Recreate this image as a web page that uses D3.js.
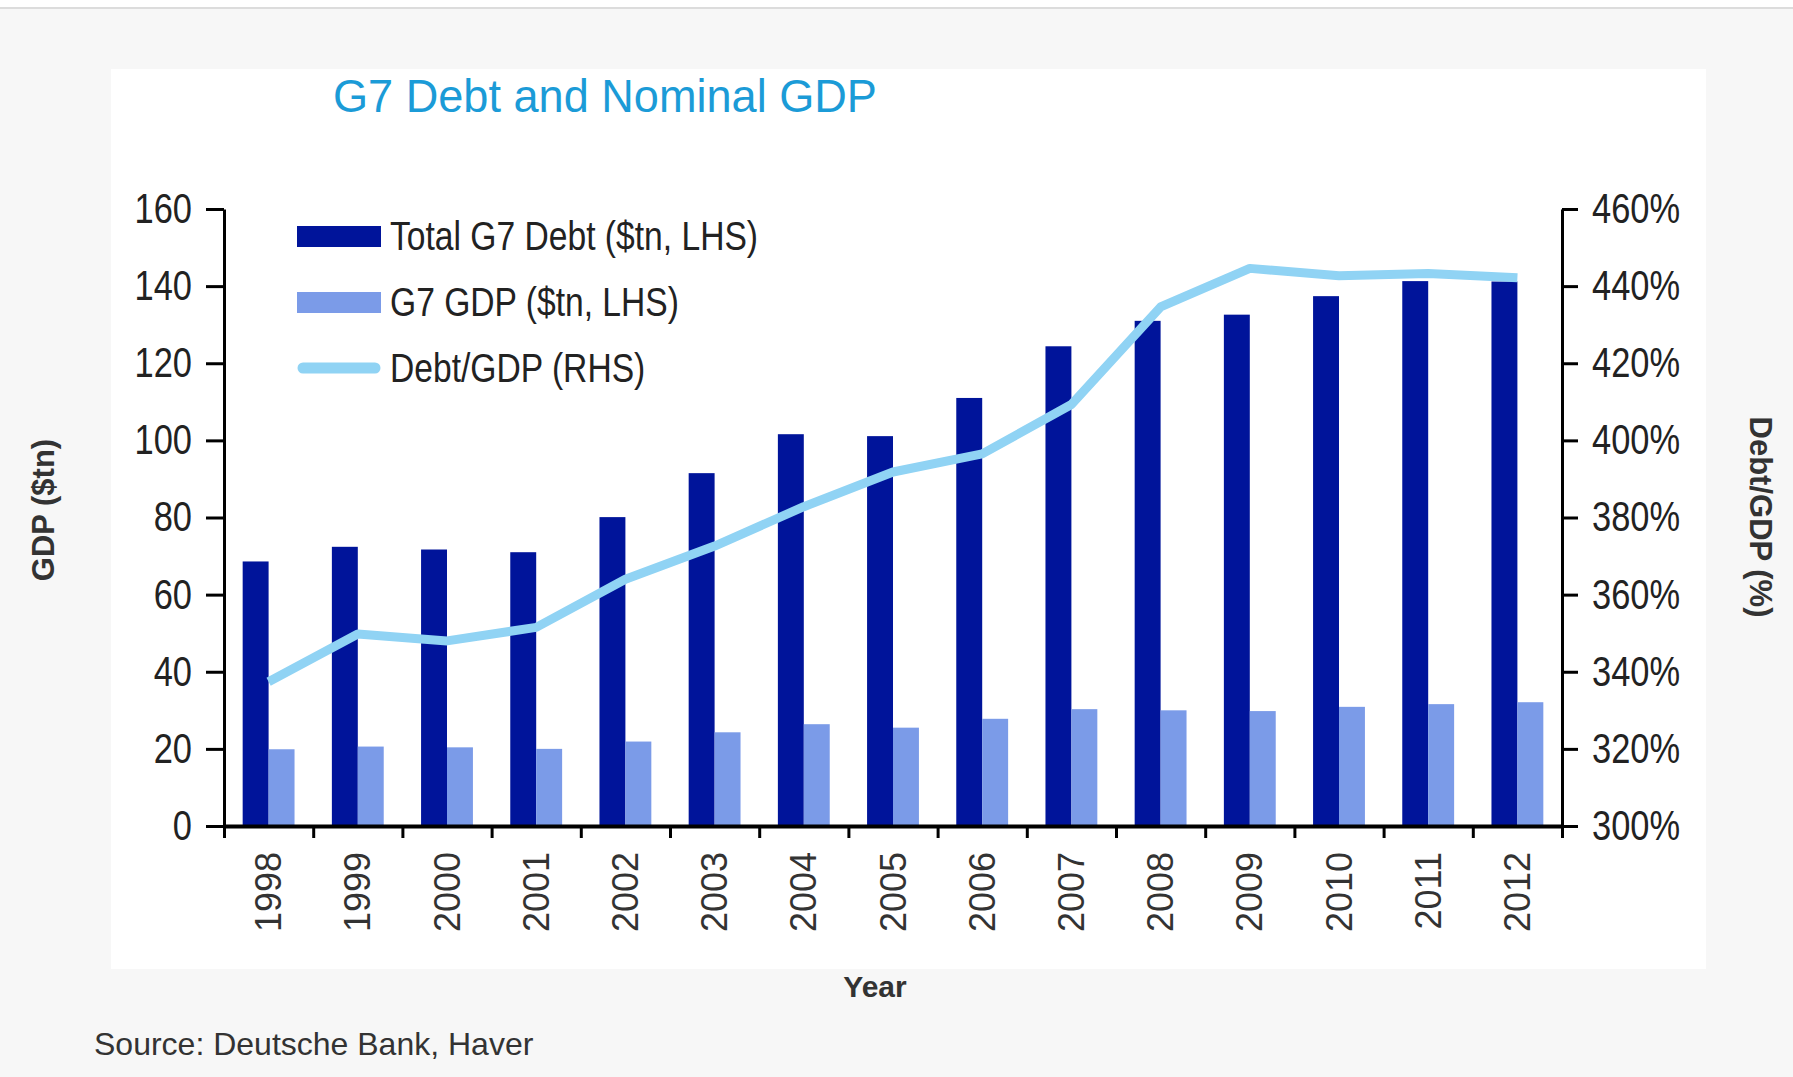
<!DOCTYPE html>
<html>
<head>
<meta charset="utf-8">
<script src="https://cdn.jsdelivr.net/npm/d3@7"></script>
<style>
  html, body { margin: 0; padding: 0; background: #f7f7f7; }
  svg { display: block; }
</style>
</head>
<body>
<svg id="chart" width="1793" height="1077"></svg>
<script>
// ---- data ----
const years = ["1998","1999","2000","2001","2002","2003","2004","2005","2006","2007","2008","2009","2010","2011","2012"];
const totalDebt = [68.6, 72.4, 71.7, 71.0, 80.1, 91.5, 101.6, 101.1, 111.0, 124.4, 131.0, 132.6, 137.4, 141.3, 141.2];
const g7Gdp     = [19.9, 20.6, 20.4, 20.0, 21.9, 24.3, 26.4, 25.5, 27.8, 30.3, 30.0, 29.8, 30.9, 31.6, 32.1];
const debtToGdp = [337.4, 349.8, 348.0, 351.5, 364.0, 372.6, 382.8, 391.8, 396.5, 409.3, 434.6, 444.6, 442.7, 443.3, 442.2];
const leftTicks  = [0, 20, 40, 60, 80, 100, 120, 140, 160];
const rightTicks = [300, 320, 340, 360, 380, 400, 420, 440, 460];
const seriesKeys  = ["debt", "gdp", "ratio"];
const seriesNames = ["Total G7 Debt ($tn, LHS)", "G7 GDP ($tn, LHS)", "Debt/GDP (RHS)"];

// ---- styling ----
const colors = { debt: "#00149a", gdp: "#7b9be8", ratio: "#90d3f4" };
const W = 1793, H = 1077;
const plot = { left: 224, right: 1562, top: 209, bottom: 826 };
const FONT = "'Liberation Sans', Arial, Helvetica, sans-serif";
const NARROW = 0.82;   // horizontal squeeze for the condensed labels

const svg = d3.select("#chart");

// page background, top rule and chart panel
svg.append("rect").attr("width", W).attr("height", H).attr("fill", "#f7f7f7");
svg.append("rect").attr("width", W).attr("height", 7).attr("fill", "#ffffff");
svg.append("line").attr("x1", 0).attr("x2", W).attr("y1", 8).attr("y2", 8)
  .attr("stroke", "#dcdcdc").attr("stroke-width", 2);
svg.append("rect").attr("x", 111).attr("y", 69).attr("width", 1595).attr("height", 900)
  .attr("fill", "#ffffff");

// ---- scales ----
const x0 = d3.scaleBand().domain(years).range([plot.left, plot.right]).padding(0);
const x1 = d3.scaleBand().domain(["debt", "gdp"]).range([0, x0.bandwidth()])
  .paddingInner(0).paddingOuter(0.72);
const yL = d3.scaleLinear().domain([0, 160]).range([plot.bottom, plot.top]);
const yR = d3.scaleLinear().domain([300, 460]).range([plot.bottom, plot.top]);

const rows = years.map((y, i) => ({ year: y, debt: totalDebt[i], gdp: g7Gdp[i], ratio: debtToGdp[i] }));

// squeeze an axis' tick labels horizontally around their anchor
function condense(sel, sx) {
  sel.each(function () {
    const t = d3.select(this);
    const x = +t.attr("x") || 0;
    t.attr("x", 0).attr("transform", `translate(${x},0) scale(${sx},1)`);
  });
}

// ---- bars ----
const pairs = svg.append("g").selectAll("g")
  .data(rows).join("g")
  .attr("transform", d => `translate(${x0(d.year)},0)`);
pairs.selectAll("rect")
  .data(d => [{ k: "debt", v: d.debt }, { k: "gdp", v: d.gdp }])
  .join("rect")
  .attr("x", e => x1(e.k))
  .attr("width", x1.bandwidth())
  .attr("y", e => yL(e.v))
  .attr("height", e => yL(0) - yL(e.v))
  .attr("fill", e => colors[e.k]);

// ---- Debt/GDP line on the right-hand scale ----
const ratioLine = d3.line()
  .x(d => x0(d.year) + x0.bandwidth() / 2)
  .y(d => yR(d.ratio));
svg.append("path").datum(rows)
  .attr("d", ratioLine)
  .attr("fill", "none")
  .attr("stroke", colors.ratio)
  .attr("stroke-width", 9)
  .attr("stroke-linejoin", "round");

// ---- axes ----
const axL = svg.append("g")
  .attr("transform", `translate(${plot.left},0)`)
  .call(d3.axisLeft(yL).tickValues(leftTicks).tickSize(18).tickSizeOuter(0).tickPadding(14));
const axR = svg.append("g")
  .attr("transform", `translate(${plot.right},0)`)
  .call(d3.axisRight(yR).tickValues(rightTicks).tickFormat(d => d + "%")
    .tickSize(16).tickSizeOuter(0).tickPadding(14));

[axL, axR].forEach(ax => {
  ax.attr("font-family", FONT).attr("font-size", 42);
  ax.select(".domain").attr("stroke", "#000").attr("stroke-width", 3);
  ax.selectAll(".tick line").attr("stroke", "#000").attr("stroke-width", 3);
  ax.selectAll(".tick text").attr("fill", "#222").call(condense, NARROW);
});

// category boundary ticks along the baseline
const bandEdges = d3.scaleLinear().domain([0, years.length]).range([plot.left, plot.right]);
const axB = svg.append("g")
  .attr("transform", `translate(0,${plot.bottom})`)
  .call(d3.axisBottom(bandEdges).tickValues(d3.range(years.length + 1))
    .tickSize(12).tickSizeOuter(0).tickFormat(""));
axB.select(".domain").attr("stroke", "#000").attr("stroke-width", 4);
axB.selectAll(".tick line").attr("stroke", "#000").attr("stroke-width", 3);

// rotated year labels centred under each pair
const axYears = svg.append("g")
  .attr("transform", `translate(0,${plot.bottom})`)
  .call(d3.axisBottom(x0).tickSize(0).tickSizeOuter(0));
axYears.select(".domain").remove();
axYears.attr("font-family", FONT).attr("font-size", 36);
axYears.selectAll(".tick text")
  .attr("fill", "#333")
  .attr("transform", "rotate(-90)")
  .attr("text-anchor", "end")
  .attr("x", -26).attr("y", 0).attr("dy", "0.35em");

// ---- legend ----
const legend = svg.append("g").attr("transform", "translate(297,236)");
seriesKeys.forEach((k, i) => {
  const row = legend.append("g").attr("transform", `translate(0,${i * 66})`);
  if (k === "ratio") {
    row.append("line").attr("x1", 6).attr("x2", 78).attr("y1", 0).attr("y2", 0)
      .attr("stroke", colors[k]).attr("stroke-width", 11).attr("stroke-linecap", "round");
  } else {
    row.append("rect").attr("x", 0).attr("y", -10).attr("width", 84).attr("height", 21)
      .attr("fill", colors[k]);
  }
  row.append("text")
    .attr("transform", `translate(93,0) scale(${NARROW},1)`)
    .attr("dy", "0.35em")
    .attr("font-family", FONT).attr("font-size", 41).attr("fill", "#222")
    .text(seriesNames[i]);
});

// ---- titles ----
svg.append("text")
  .attr("transform", "translate(333,112) scale(0.96,1)")
  .attr("font-family", FONT).attr("font-size", 47).attr("fill", "#1b9bd7")
  .text("G7 Debt and Nominal GDP");

svg.append("text")
  .attr("transform", "translate(43,510) rotate(-90)")
  .attr("text-anchor", "middle").attr("dy", "0.35em")
  .attr("font-family", FONT).attr("font-size", 31).attr("font-weight", "bold").attr("fill", "#333")
  .text("GDP ($tn)");

svg.append("text")
  .attr("transform", "translate(1761,517) rotate(90)")
  .attr("text-anchor", "middle").attr("dy", "0.35em")
  .attr("font-family", FONT).attr("font-size", 31).attr("font-weight", "bold").attr("fill", "#333")
  .text("Debt/GDP (%)");

svg.append("text")
  .attr("x", 875).attr("y", 997).attr("text-anchor", "middle")
  .attr("font-family", FONT).attr("font-size", 30).attr("font-weight", "bold").attr("fill", "#333")
  .text("Year");

svg.append("text")
  .attr("x", 94).attr("y", 1055)
  .attr("font-family", FONT).attr("font-size", 32).attr("fill", "#333")
  .text("Source: Deutsche Bank, Haver");
</script>
</body>
</html>
